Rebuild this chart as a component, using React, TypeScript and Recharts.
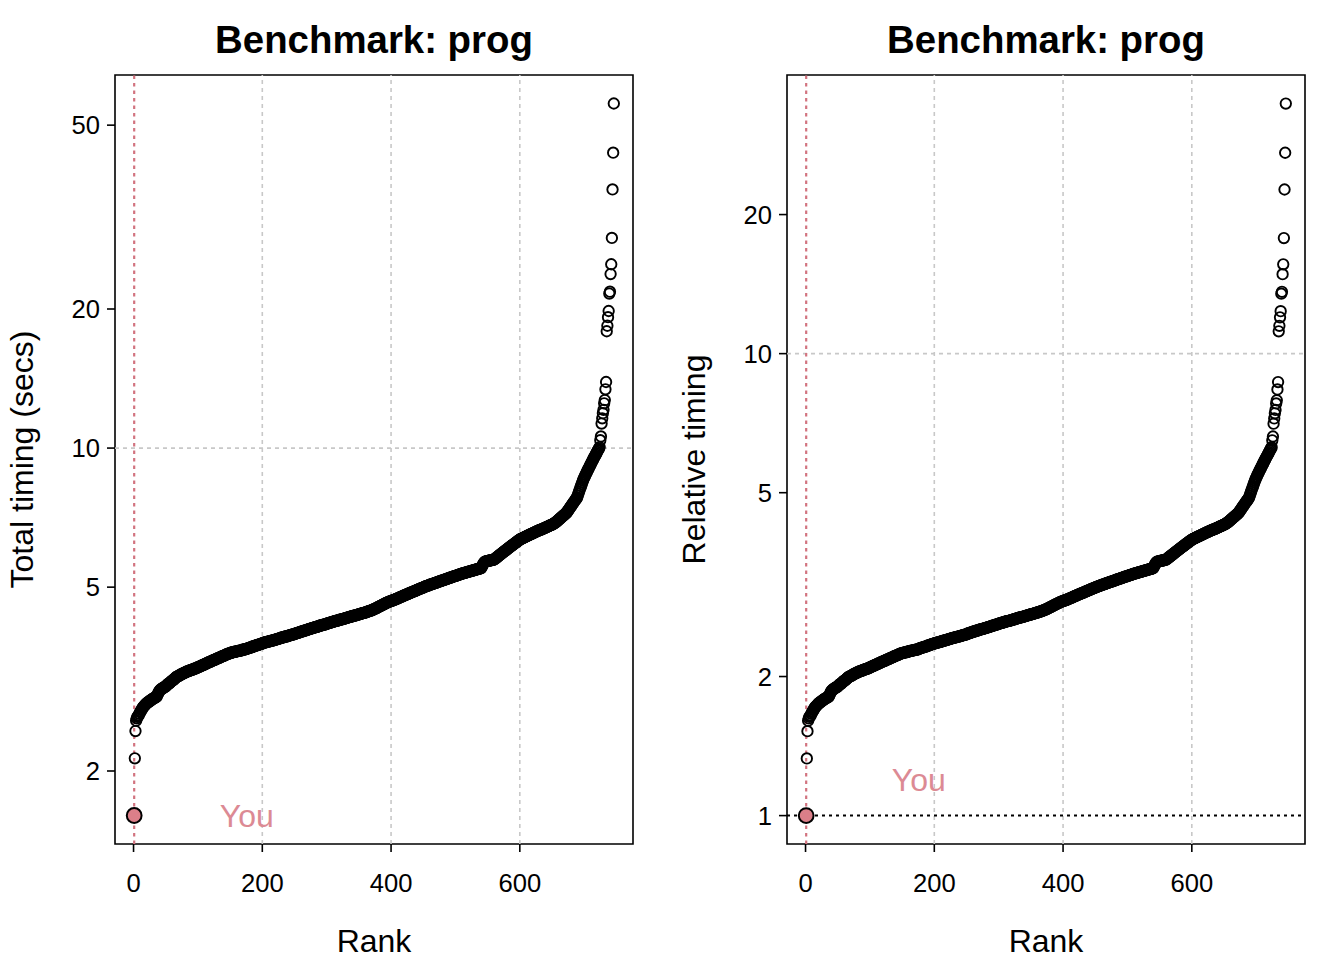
import React from 'react';
import { ScatterChart, Scatter, XAxis, YAxis, ReferenceLine, ReferenceArea, Customized } from 'recharts';

const FONT = '"Liberation Sans", Arial, Helvetica, sans-serif';

// "You" entry (rank 1)
const youRank = 1;
const youTotal = 1.602;

// Total timings (secs) of the other entries, ranks 2..746 in order
const otherTotals = [
  2.13, 2.44,
  2.57, 2.60, 2.62, 2.63, 2.64, 2.66, 2.68,
  2.69, 2.71, 2.72, 2.74, 2.75, 2.76, 2.77, 2.78, 2.79, 2.80,
  2.81, 2.81, 2.82, 2.83, 2.83, 2.84, 2.85, 2.85, 2.86, 2.87,
  2.87, 2.88, 2.88, 2.89, 2.89, 2.90, 2.92, 2.94, 2.96, 2.98,
  2.99, 3.00, 3.01, 3.01, 3.02, 3.03, 3.03, 3.04, 3.04, 3.05,
  3.06, 3.07, 3.08, 3.09, 3.09, 3.10, 3.11, 3.12, 3.13, 3.14,
  3.14, 3.15, 3.16, 3.17, 3.18, 3.19, 3.20, 3.20, 3.21, 3.21,
  3.22, 3.22, 3.23, 3.24, 3.24, 3.25, 3.25, 3.26, 3.26, 3.27,
  3.27, 3.28, 3.28, 3.29, 3.29, 3.29, 3.30, 3.30, 3.31, 3.31,
  3.31, 3.32, 3.32, 3.33, 3.33, 3.33, 3.34, 3.34, 3.35, 3.35,
  3.36, 3.36, 3.37, 3.37, 3.38, 3.38, 3.39, 3.39, 3.40, 3.40,
  3.41, 3.41, 3.42, 3.42, 3.43, 3.43, 3.44, 3.44, 3.45, 3.45,
  3.46, 3.46, 3.47, 3.47, 3.48, 3.48, 3.49, 3.49, 3.50, 3.50,
  3.51, 3.51, 3.52, 3.52, 3.53, 3.53, 3.54, 3.54, 3.55, 3.55,
  3.56, 3.56, 3.57, 3.57, 3.58, 3.58, 3.59, 3.59, 3.60, 3.60,
  3.60, 3.61, 3.61, 3.61, 3.62, 3.62, 3.62, 3.62, 3.63, 3.63,
  3.63, 3.64, 3.64, 3.64, 3.64, 3.65, 3.65, 3.65, 3.66, 3.66,
  3.66, 3.66, 3.67, 3.67, 3.67, 3.68, 3.68, 3.69, 3.69, 3.70,
  3.70, 3.70, 3.71, 3.71, 3.72, 3.72, 3.72, 3.73, 3.73, 3.74,
  3.74, 3.74, 3.75, 3.75, 3.76, 3.76, 3.77, 3.77, 3.77, 3.78,
  3.78, 3.79, 3.79, 3.79, 3.80, 3.80, 3.80, 3.81, 3.81, 3.81,
  3.82, 3.82, 3.82, 3.83, 3.83, 3.83, 3.84, 3.84, 3.84, 3.85,
  3.85, 3.86, 3.86, 3.86, 3.87, 3.87, 3.88, 3.88, 3.88, 3.89,
  3.89, 3.89, 3.90, 3.90, 3.90, 3.91, 3.91, 3.91, 3.92, 3.92,
  3.92, 3.93, 3.93, 3.94, 3.94, 3.94, 3.95, 3.95, 3.95, 3.96,
  3.96, 3.97, 3.97, 3.98, 3.98, 3.98, 3.99, 3.99, 4.00, 4.00,
  4.01, 4.01, 4.01, 4.02, 4.02, 4.03, 4.03, 4.03, 4.04, 4.04,
  4.05, 4.05, 4.06, 4.06, 4.06, 4.07, 4.07, 4.08, 4.08, 4.08,
  4.09, 4.09, 4.10, 4.10, 4.10, 4.11, 4.11, 4.12, 4.12, 4.13,
  4.13, 4.13, 4.14, 4.14, 4.15, 4.15, 4.15, 4.16, 4.16, 4.17,
  4.17, 4.18, 4.18, 4.18, 4.19, 4.19, 4.20, 4.20, 4.20, 4.21,
  4.21, 4.22, 4.22, 4.22, 4.23, 4.23, 4.23, 4.24, 4.24, 4.25,
  4.25, 4.25, 4.26, 4.26, 4.27, 4.27, 4.27, 4.28, 4.28, 4.29,
  4.29, 4.29, 4.30, 4.30, 4.31, 4.31, 4.31, 4.32, 4.32, 4.33,
  4.33, 4.33, 4.34, 4.34, 4.35, 4.35, 4.35, 4.36, 4.36, 4.37,
  4.37, 4.37, 4.38, 4.38, 4.39, 4.39, 4.40, 4.40, 4.40, 4.41,
  4.41, 4.42, 4.42, 4.43, 4.43, 4.44, 4.44, 4.45, 4.45, 4.46,
  4.46, 4.47, 4.48, 4.48, 4.49, 4.50, 4.50, 4.51, 4.52, 4.53,
  4.53, 4.54, 4.55, 4.56, 4.56, 4.57, 4.58, 4.59, 4.59, 4.60,
  4.61, 4.62, 4.62, 4.63, 4.64, 4.64, 4.65, 4.66, 4.66, 4.67,
  4.67, 4.68, 4.68, 4.69, 4.69, 4.70, 4.71, 4.71, 4.72, 4.73,
  4.73, 4.74, 4.75, 4.75, 4.76, 4.77, 4.77, 4.78, 4.79, 4.79,
  4.80, 4.81, 4.81, 4.82, 4.83, 4.83, 4.84, 4.85, 4.85, 4.86,
  4.87, 4.87, 4.88, 4.89, 4.89, 4.90, 4.91, 4.91, 4.92, 4.93,
  4.93, 4.94, 4.95, 4.95, 4.96, 4.97, 4.97, 4.98, 4.99, 4.99,
  5.00, 5.01, 5.01, 5.02, 5.03, 5.03, 5.04, 5.04, 5.05, 5.06,
  5.06, 5.07, 5.07, 5.08, 5.08, 5.09, 5.10, 5.10, 5.11, 5.11,
  5.12, 5.13, 5.13, 5.14, 5.14, 5.15, 5.15, 5.16, 5.17, 5.17,
  5.18, 5.18, 5.19, 5.20, 5.20, 5.21, 5.21, 5.22, 5.22, 5.23,
  5.24, 5.24, 5.25, 5.25, 5.26, 5.27, 5.27, 5.28, 5.28, 5.29,
  5.29, 5.30, 5.31, 5.31, 5.32, 5.32, 5.33, 5.34, 5.34, 5.35,
  5.35, 5.36, 5.36, 5.37, 5.37, 5.38, 5.38, 5.39, 5.39, 5.40,
  5.40, 5.41, 5.41, 5.42, 5.42, 5.43, 5.43, 5.44, 5.44, 5.45,
  5.45, 5.46, 5.46, 5.47, 5.47, 5.48, 5.48, 5.49, 5.49, 5.50,
  5.53, 5.57, 5.61, 5.64, 5.66, 5.68, 5.68, 5.69, 5.69, 5.70,
  5.70, 5.70, 5.71, 5.71, 5.72, 5.72, 5.72, 5.73, 5.73, 5.74,
  5.75, 5.77, 5.78, 5.80, 5.81, 5.83, 5.84, 5.86, 5.87, 5.89,
  5.90, 5.92, 5.93, 5.95, 5.96, 5.98, 5.99, 6.01, 6.02, 6.04,
  6.05, 6.07, 6.08, 6.10, 6.11, 6.13, 6.14, 6.16, 6.17, 6.19,
  6.20, 6.22, 6.23, 6.25, 6.26, 6.28, 6.29, 6.31, 6.32, 6.34,
  6.35, 6.36, 6.37, 6.38, 6.39, 6.40, 6.41, 6.42, 6.43, 6.44,
  6.45, 6.46, 6.47, 6.48, 6.49, 6.50, 6.51, 6.52, 6.53, 6.54,
  6.55, 6.56, 6.57, 6.58, 6.59, 6.60, 6.61, 6.62, 6.63, 6.64,
  6.65, 6.66, 6.66, 6.67, 6.68, 6.69, 6.70, 6.71, 6.72, 6.73,
  6.74, 6.75, 6.76, 6.77, 6.78, 6.79, 6.80, 6.81, 6.82, 6.83,
  6.84, 6.85, 6.87, 6.88, 6.90, 6.91, 6.93, 6.95, 6.97, 6.99,
  7.01, 7.03, 7.05, 7.07, 7.09, 7.11, 7.13, 7.15, 7.17, 7.19,
  7.21, 7.23, 7.26, 7.29, 7.33, 7.36, 7.40, 7.43, 7.47, 7.50,
  7.54, 7.57, 7.61, 7.64, 7.68, 7.71, 7.75, 7.78, 7.82, 7.90,
  7.97, 8.05, 8.12, 8.20, 8.27, 8.35, 8.42, 8.50, 8.57, 8.63,
  8.69, 8.75, 8.81, 8.87, 8.93, 8.99, 9.04, 9.10, 9.16, 9.22,
  9.28, 9.34, 9.40, 9.46, 9.52, 9.57, 9.63, 9.69, 9.75, 9.81,
  9.87, 9.93, 9.99, 10.05,
  10.4, 10.6, 11.3, 11.6, 11.9, 12.1, 12.5, 12.7, 13.4, 13.9,
  17.9, 18.4, 19.2, 19.8, 21.6, 21.8, 23.8, 25.0, 28.5, 36.3,
  43.6, 55.7,
];

const xTicks = [0, 200, 400, 600];
const xDomain = [-28.8, 775.8];
const gridX = [200, 400, 600];
const gridY = 10;

const leftYTicks = [2, 5, 10, 20, 50];
const leftYDomain = [1.39, 64.2];
const rightYTicks = [1, 2, 5, 10, 20];
const rightYDomain = [0.868, 40.1];

const youLabelLeft = { rank: 176, value: 1.6 };
const youLabelRight = { rank: 176, value: 1.2 };

const totalData = otherTotals.map((v, i) => ({ rank: i + 2, value: v }));
const relativeData = otherTotals.map((v, i) => ({ rank: i + 2, value: v / youTotal }));

const RED_LINE = '#D2737F';
const RED_FILL = '#DB7F89';
const RED_TEXT = '#DC8A94';

const W = 672;
const H = 960;
const M = { top: 75, right: 39, bottom: 0, left: 0 };
const YAW = 115;
const XAH = 116;

const OpenCircle = (p: any) => (
  <circle cx={p.cx} cy={p.cy} r={5.2} fill="none" stroke="#000" strokeWidth={1.9} />
);
const YouCircle = (p: any) => (
  <circle cx={p.cx} cy={p.cy} r={7.4} fill={RED_FILL} stroke="#000" strokeWidth={2} />
);
const YouText = (p: any) => (
  <text x={p.cx} y={p.cy} dy="0.36em" textAnchor="middle" fontSize={32} fill={RED_TEXT} fontFamily={FONT}>
    You
  </text>
);

type PanelProps = {
  data: { rank: number; value: number }[];
  youValue: number;
  yTicks: number[];
  yDomain: number[];
  yLabel: string;
  youLabel: { rank: number; value: number };
  oneLine: boolean;
};

function Panel({ data, youValue, yTicks, yDomain, yLabel, youLabel, oneLine }: PanelProps) {
  const plotLeft = M.left + YAW;
  const plotRight = W - M.right;
  const plotTop = M.top;
  const plotBottom = H - M.bottom - XAH;
  const cx = (plotLeft + plotRight) / 2;
  const cy = (plotTop + plotBottom) / 2;
  const Texts = () => (
    <g fontFamily={FONT} fill="#000">
      <text x={cx} y={53} textAnchor="middle" fontSize={38.4} fontWeight="bold">Benchmark: prog</text>
      <text x={cx} y={952} textAnchor="middle" fontSize={32}>Rank</text>
      <text transform={`translate(33,${cy}) rotate(-90)`} textAnchor="middle" fontSize={32}>{yLabel}</text>
    </g>
  );
  return (
    <ScatterChart width={W} height={H} margin={M}>
      <XAxis
        type="number"
        dataKey="rank"
        domain={xDomain}
        ticks={xTicks}
        allowDataOverflow
        height={XAH}
        axisLine={false}
        tickSize={8}
        tickMargin={22}
        tickLine={{ stroke: '#000', strokeWidth: 1.6 }}
        tick={{ fontSize: 25.6, fill: '#000', fontFamily: FONT }}
      />
      <YAxis
        type="number"
        dataKey="value"
        scale="log"
        domain={yDomain}
        ticks={yTicks}
        allowDataOverflow
        width={YAW}
        axisLine={false}
        tickSize={8}
        tickMargin={7}
        tickLine={{ stroke: '#000', strokeWidth: 1.6 }}
        tick={{ fontSize: 25.6, fill: '#000', fontFamily: FONT }}
      />
      {gridX.map((g) => (
        <ReferenceLine key={'gx' + g} x={g} stroke="#C8C8C8" strokeWidth={1.6} strokeDasharray="4 4" />
      ))}
      <ReferenceLine y={gridY} stroke="#C8C8C8" strokeWidth={1.6} strokeDasharray="4 4" />
      <Scatter data={data} dataKey="value" shape={OpenCircle} isAnimationActive={false} />
      <Scatter data={[{ rank: youRank, value: youValue }]} dataKey="value" shape={YouCircle} isAnimationActive={false} />
      <Scatter data={[youLabel]} dataKey="value" shape={YouText} isAnimationActive={false} />
      <ReferenceLine x={youRank} stroke={RED_LINE} strokeWidth={2.2} strokeDasharray="3.5 4" />
      {oneLine && <ReferenceLine y={youValue} stroke="#000" strokeWidth={2} strokeDasharray="3 4" />}
      <ReferenceArea
        x1={xDomain[0]}
        x2={xDomain[1]}
        y1={yDomain[0]}
        y2={yDomain[1]}
        fill="none"
        fillOpacity={0}
        stroke="#000"
        strokeWidth={1.6}
      />
      <Customized component={Texts} />
    </ScatterChart>
  );
}

export default function App() {
  return (
    <div style={{ position: 'absolute', left: 0, top: 0, width: 1344, height: 960, background: '#fff', display: 'flex' }}>
      <Panel
        data={totalData}
        youValue={youTotal}
        yTicks={leftYTicks}
        yDomain={leftYDomain}
        yLabel="Total timing (secs)"
        youLabel={youLabelLeft}
        oneLine={false}
      />
      <Panel
        data={relativeData}
        youValue={1}
        yTicks={rightYTicks}
        yDomain={rightYDomain}
        yLabel="Relative timing"
        youLabel={youLabelRight}
        oneLine={true}
      />
    </div>
  );
}
